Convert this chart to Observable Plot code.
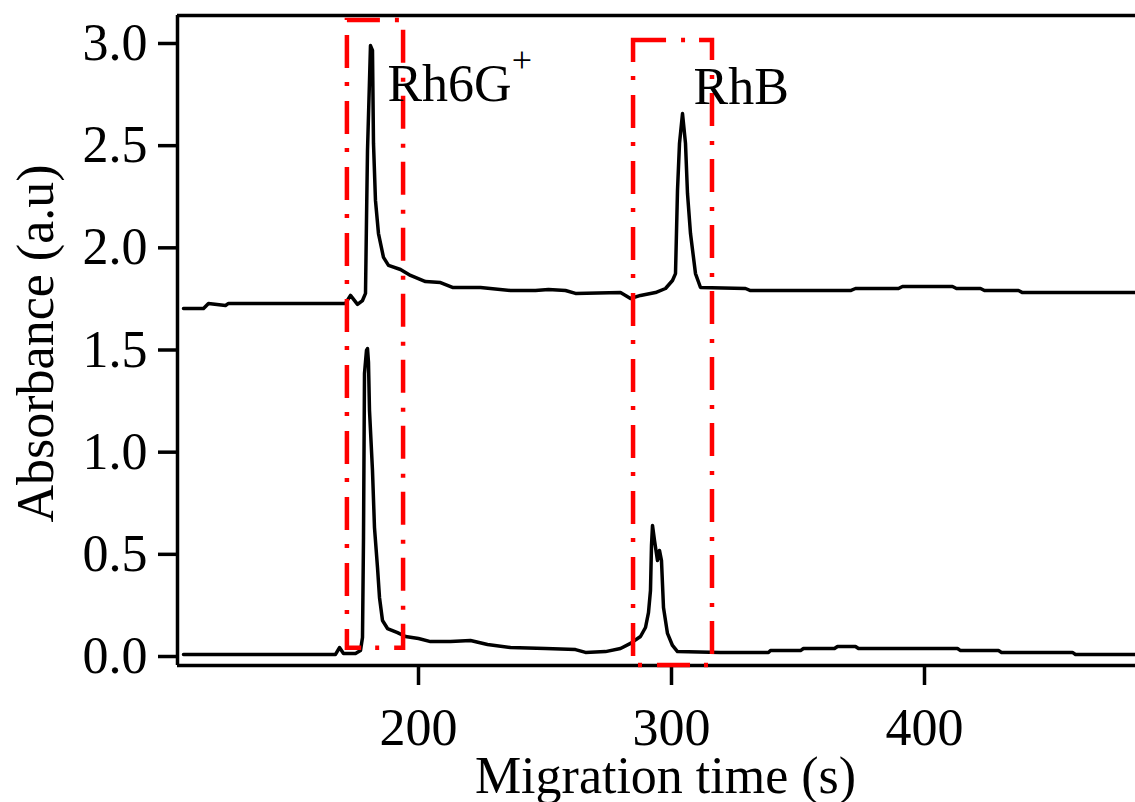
<!DOCTYPE html>
<html>
<head>
<meta charset="utf-8">
<script src="https://cdn.jsdelivr.net/npm/d3@7"></script>
<script src="https://cdn.jsdelivr.net/npm/@observablehq/plot@0.6"></script>
<style>
  html, body { margin: 0; padding: 0; background: #fff; }
  #chart svg { display: block; }
</style>
</head>
<body>
<div id="chart"></div>
<script>
// Electropherogram of Rh6G+ and RhB: absorbance against migration time.
// Upper trace (offset baseline) and lower trace.
const upperTime = [107.11, 115.02, 116.99, 123.71, 124.90, 171.14, 173.12, 175.89, 177.86, 179.05,
  179.44, 179.84, 180.63, 181.02, 181.81, 182.21, 182.99, 184.18, 186.16, 188.14,
  192.88, 196.83, 202.76, 208.69, 213.43, 224.50, 236.36, 246.24, 251.38, 258.10,
  262.05, 279.84, 281.82, 283.79, 287.74, 293.67, 297.63, 300.39, 301.58, 302.37,
  303.16, 304.35, 305.53, 306.32, 307.51, 309.48, 311.46, 329.25, 331.22, 370.75,
  372.72, 389.72, 391.30, 411.06, 412.64, 422.13, 423.71, 437.15, 438.73, 483.40];
const upperAbs = [1.703, 1.703, 1.728, 1.718, 1.728, 1.728, 1.767, 1.723, 1.742, 1.777,
  2.134, 2.476, 2.819, 2.990, 2.966, 2.511, 2.232, 2.070, 1.953, 1.914,
  1.894, 1.865, 1.835, 1.830, 1.806, 1.806, 1.791, 1.791, 1.796, 1.791,
  1.777, 1.781, 1.767, 1.752, 1.767, 1.781, 1.801, 1.840, 1.874, 2.281,
  2.511, 2.657, 2.511, 2.266, 2.070, 1.874, 1.806, 1.801, 1.791, 1.791,
  1.801, 1.801, 1.811, 1.811, 1.801, 1.801, 1.791, 1.791, 1.781, 1.781];

const lowerTime = [107.11, 167.19, 168.77, 170.35, 175.10, 177.07, 177.86, 178.26, 178.65, 179.44,
  179.84, 180.23, 180.63, 181.81, 182.60, 183.79, 184.58, 185.77, 187.74, 191.70,
  194.86, 200.00, 204.74, 212.65, 220.55, 227.27, 236.36, 250.19, 262.05, 266.00,
  273.91, 279.84, 283.79, 287.74, 289.72, 290.90, 291.69, 292.09, 292.49, 293.28,
  294.46, 295.25, 296.04, 296.83, 298.41, 300.39, 302.37, 319.36, 338.33, 339.12,
  351.00, 352.16, 364.42, 365.61, 372.72, 373.91, 413.04, 414.23, 429.25, 430.43,
  458.49, 459.68, 483.40];
const lowerAbs = [0.010, 0.010, 0.044, 0.015, 0.015, 0.029, 0.093, 0.582, 1.385, 1.498,
  1.507, 1.439, 1.204, 0.910, 0.631, 0.436, 0.289, 0.176, 0.137, 0.117,
  0.098, 0.088, 0.073, 0.073, 0.078, 0.059, 0.044, 0.039, 0.034, 0.020,
  0.024, 0.039, 0.064, 0.098, 0.142, 0.215, 0.323, 0.543, 0.641, 0.568,
  0.470, 0.519, 0.470, 0.240, 0.113, 0.054, 0.024, 0.020, 0.020, 0.029,
  0.029, 0.039, 0.039, 0.049, 0.049, 0.039, 0.039, 0.029, 0.029, 0.020,
  0.020, 0.010, 0.010];

// Axis ticks and ranges
const xTicks = [200, 300, 400];
const yTicks = [0, 0.5, 1.0, 1.5, 2.0, 2.5, 3.0];
const xDomain = [104.74, 483.4];
const yDomain = [-0.044, 3.137];

// Dash-dot windows around each peak
const boxStart = [171.9, 285.0];
const boxEnd = [194.1, 316.2];
const boxLow = [0.04, -0.044];
const boxHigh = [3.113, 3.015];

// Peak labels
const peakNames = ["Rh6G", "RhB"];
const peakSup = ["+", ""];
const peakLabelTime = [187.7, 308.7];
const peakLabelAbs = [2.721, 2.705];

const upper = upperTime.map((t, i) => ({t, a: upperAbs[i]}));
const lower = lowerTime.map((t, i) => ({t, a: lowerAbs[i]}));
const boxes = boxStart.map((s, i) => ({x1: s, x2: boxEnd[i], y1: boxLow[i], y2: boxHigh[i]}));
const labels = peakNames.map((name, i) => ({name, t: peakLabelTime[i], a: peakLabelAbs[i]}));

const serif = "'Liberation Serif', 'Times New Roman', Times, serif";

const chart = Plot.plot({
  width: 1135,
  height: 802,
  marginLeft: 177,
  marginRight: 0,
  marginTop: 15,
  marginBottom: 137,
  style: {fontFamily: serif, fontSize: "52px", color: "black", background: "white", overflow: "visible"},
  x: {domain: xDomain, label: null},
  y: {domain: yDomain, label: null},
  marks: [
    Plot.line(upper, {x: "t", y: "a", stroke: "black", strokeWidth: 3.5}),
    Plot.line(lower, {x: "t", y: "a", stroke: "black", strokeWidth: 3.5}),
    Plot.ruleX([xDomain[0]], {stroke: "black", strokeWidth: 3.5}),
    Plot.ruleY([yDomain[0]], {stroke: "black", strokeWidth: 3.5}),
    Plot.ruleY([yDomain[1]], {stroke: "black", strokeWidth: 3.5}),
    Plot.axisX({ticks: xTicks, tickSize: 20, tickPadding: 23, strokeWidth: 3.5, fontSize: 52,
      label: null, tickFormat: d => String(d)}),
    Plot.axisY({ticks: yTicks, tickSize: 19, tickPadding: 11, strokeWidth: 3.5, fontSize: 52,
      label: null, tickFormat: d3.format(".1f")}),
    Plot.rect(boxes, {x1: "x1", x2: "x2", y1: "y1", y2: "y2", fill: "none",
      stroke: "#ff0000", strokeWidth: 4.5, strokeDasharray: "33,15,4,14"}),
    Plot.text(labels, {x: "t", y: "a", text: "name", textAnchor: "start", lineAnchor: "bottom",
      fontSize: 52, fill: "black"}),
    Plot.text(["Migration time (s)"], {frameAnchor: "bottom", textAnchor: "middle", dx: 9, dy: 127,
      lineAnchor: "bottom", fontSize: 52, fill: "black"}),
    Plot.text(["Absorbance (a.u)"], {frameAnchor: "left", textAnchor: "middle", rotate: -90,
      dx: -125, dy: 3, lineAnchor: "bottom", fontSize: 52, fill: "black"})
  ]
});

// Superscript charge on the peak labels that carry one
d3.select(chart).selectAll("text").each(function () {
  const i = peakNames.indexOf(this.textContent);
  if (i >= 0 && peakSup[i]) {
    d3.select(this).append("tspan").attr("dy", -29).attr("font-size", 36).text(peakSup[i]);
  }
});

document.getElementById("chart").appendChild(chart);
</script>
</body>
</html>
